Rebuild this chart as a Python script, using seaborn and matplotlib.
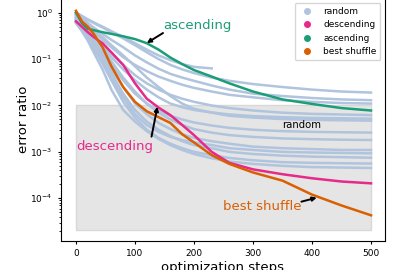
import numpy as np
import pandas as pd
import matplotlib
matplotlib.use("Agg")
import matplotlib.pyplot as plt
from matplotlib.lines import Line2D
from matplotlib.patches import Rectangle
import seaborn as sns

# values (log scale error ratio vs step)
steps = [0, 10, 20, 30, 45, 60, 80, 100, 120, 140, 160, 180, 200, 230, 260, 300, 350, 400, 450, 500]

random_runs = [
    [1.0, 0.85, 0.7, 0.6, 0.48, 0.38, 0.28, 0.2, 0.14, 0.1, 0.075, 0.06, 0.05, 0.04, 0.034, 0.029, 0.025, 0.022, 0.02, 0.019],
    [0.95, 0.8, 0.6, 0.48, 0.35, 0.26, 0.18, 0.12, 0.085, 0.062, 0.048, 0.04, 0.034, 0.027, 0.022, 0.018, 0.016, 0.0145, 0.0135, 0.013],
    [0.9, 0.7, 0.5, 0.38, 0.26, 0.18, 0.11, 0.075, 0.055, 0.042, 0.034, 0.028, 0.024, 0.02, 0.017, 0.015, 0.013, 0.012, 0.0113, 0.011],
    [0.85, 0.65, 0.45, 0.32, 0.2, 0.13, 0.075, 0.045, 0.03, 0.022, 0.017, 0.014, 0.012, 0.01, 0.0088, 0.0078, 0.007, 0.0066, 0.0064, 0.0062],
    [0.8, 0.6, 0.42, 0.3, 0.18, 0.11, 0.06, 0.035, 0.022, 0.015, 0.011, 0.0092, 0.008, 0.0071, 0.0064, 0.0059, 0.0056, 0.0054, 0.0053, 0.0052],
    [0.9, 0.75, 0.55, 0.42, 0.3, 0.2, 0.12, 0.07, 0.04, 0.025, 0.016, 0.011, 0.0085, 0.007, 0.006, 0.0055, 0.0051, 0.0049, 0.0048, 0.0047],
    [0.75, 0.55, 0.38, 0.25, 0.14, 0.075, 0.035, 0.018, 0.011, 0.0078, 0.006, 0.005, 0.0043, 0.0037, 0.0033, 0.003, 0.0028, 0.0027, 0.00265, 0.0026],
    [0.8, 0.6, 0.42, 0.3, 0.17, 0.09, 0.04, 0.02, 0.011, 0.007, 0.005, 0.0038, 0.0031, 0.0026, 0.0023, 0.0021, 0.00195, 0.00188, 0.00183, 0.0018],
    [0.7, 0.5, 0.33, 0.22, 0.12, 0.06, 0.025, 0.011, 0.0065, 0.0042, 0.0031, 0.0024, 0.002, 0.0017, 0.0015, 0.0013, 0.0012, 0.00115, 0.0011, 0.0011],
    [0.65, 0.45, 0.3, 0.18, 0.09, 0.04, 0.015, 0.0065, 0.0038, 0.0027, 0.0021, 0.0018, 0.0016, 0.0014, 0.0012, 0.0011, 0.001, 0.00097, 0.00095, 0.00093],
    [0.7, 0.5, 0.34, 0.22, 0.11, 0.05, 0.018, 0.008, 0.0045, 0.003, 0.0022, 0.0017, 0.0014, 0.0012, 0.001, 0.0009, 0.00083, 0.00079, 0.00077, 0.00075],
    [0.6, 0.42, 0.28, 0.17, 0.08, 0.035, 0.012, 0.0055, 0.003, 0.002, 0.0015, 0.0012, 0.001, 0.00085, 0.00074, 0.00066, 0.0006, 0.00058, 0.00057, 0.00056],
    [0.6, 0.4, 0.25, 0.14, 0.06, 0.022, 0.008, 0.0045, 0.0028, 0.0019, 0.0014, 0.0011, 0.0009, 0.00073, 0.00062, 0.00055, 0.0005, 0.00047, 0.00046, 0.00045],
    [1.0, 0.85, 0.72, 0.62, 0.5, 0.4, 0.3, 0.22, 0.16, 0.12, 0.095, 0.078, 0.068, 0.063, np.nan, np.nan, np.nan, np.nan, np.nan, np.nan],
]

descending = [0.65, 0.5, 0.38, 0.3, 0.22, 0.14, 0.075, 0.03, 0.014, 0.009, 0.0062, 0.0038, 0.0023, 0.001, 0.00058, 0.00042, 0.00033, 0.00027, 0.00023, 0.00021]
ascending = [1.0, 0.6, 0.45, 0.42, 0.38, 0.35, 0.31, 0.27, 0.22, 0.16, 0.108, 0.078, 0.058, 0.042, 0.03, 0.02, 0.0135, 0.0108, 0.0088, 0.0078]
best_shuffle = [1.1, 0.65, 0.5, 0.35, 0.18, 0.07, 0.025, 0.012, 0.0075, 0.0056, 0.0042, 0.0024, 0.0016, 0.00085, 0.00055, 0.00036, 0.00024, 0.00012, 0.00007, 0.000043]

colors = {"random": "#b0c4de", "descending": "#e7298a",
          "ascending": "#1b9e77", "best shuffle": "#d95f02"}

rows = []
for i, run in enumerate(random_runs):
    for s, v in zip(steps, run):
        rows.append(("random", "r%d" % i, s, v))
for name, run in [("descending", descending), ("ascending", ascending),
                  ("best shuffle", best_shuffle)]:
    for s, v in zip(steps, run):
        rows.append((name, name, s, v))
df = pd.DataFrame(rows, columns=["kind", "run", "step", "err"]).dropna()

fig = plt.figure(figsize=(4.05, 2.7), dpi=100)
ax = fig.add_axes([0.1506, 0.1074, 0.80, 0.898])

ax.add_patch(Rectangle((0, 2.1e-5), 500, 1e-2 - 2.1e-5, facecolor="#e5e5e5",
                       edgecolor="#d8d8d8", zorder=0))

sns.lineplot(data=df[df.kind == "random"], x="step", y="err", units="run",
             estimator=None, color=colors["random"], lw=1.8, ax=ax, legend=False)
for name in ["descending", "ascending", "best shuffle"]:
    sns.lineplot(data=df[df.kind == name], x="step", y="err",
                 color=colors[name], lw=1.8, ax=ax, legend=False)

ax.set_yscale("log")
ax.set_xlim(-25.4, 523.7)
ax.set_ylim(1.2e-5, 2.02)
ax.set_xticks([0, 100, 200, 300, 400, 500])
ax.tick_params(labelsize=6.5, length=2.5)
ax.tick_params(which="minor", length=1.5)
ax.set_xlabel("optimization steps", fontsize=9.5, labelpad=2)
ax.set_ylabel("error ratio", fontsize=9.5, labelpad=0.5)

arw = dict(arrowstyle="-|>", color="k", lw=1.4, mutation_scale=6, shrinkA=0, shrinkB=0)
ax.annotate("", xy=(120, 0.222), xytext=(147.5, 0.365), arrowprops=arw)
ax.annotate("", xy=(138, 0.0094), xytext=(128, 0.00213), arrowprops=arw)
ax.annotate("", xy=(408, 1.03e-4), xytext=(382, 8.45e-5), arrowprops=arw)

ax.text(147.5, 0.52, "ascending", color=colors["ascending"], fontsize=9.5, va="center")
ax.text(0, 0.00128, "descending", color=colors["descending"], fontsize=9.5, va="center")
ax.text(349, 0.0038, "random", fontsize=7.3, va="center")
ax.text(249, 6.5e-5, "best shuffle", color=colors["best shuffle"], fontsize=9.5, va="center")

handles = [Line2D([], [], marker="o", ls="none", color=c, markersize=4) for c in colors.values()]
ax.legend(handles, list(colors.keys()), loc="upper right", fontsize=6.5)

fig.savefig("out.png", dpi=100)
